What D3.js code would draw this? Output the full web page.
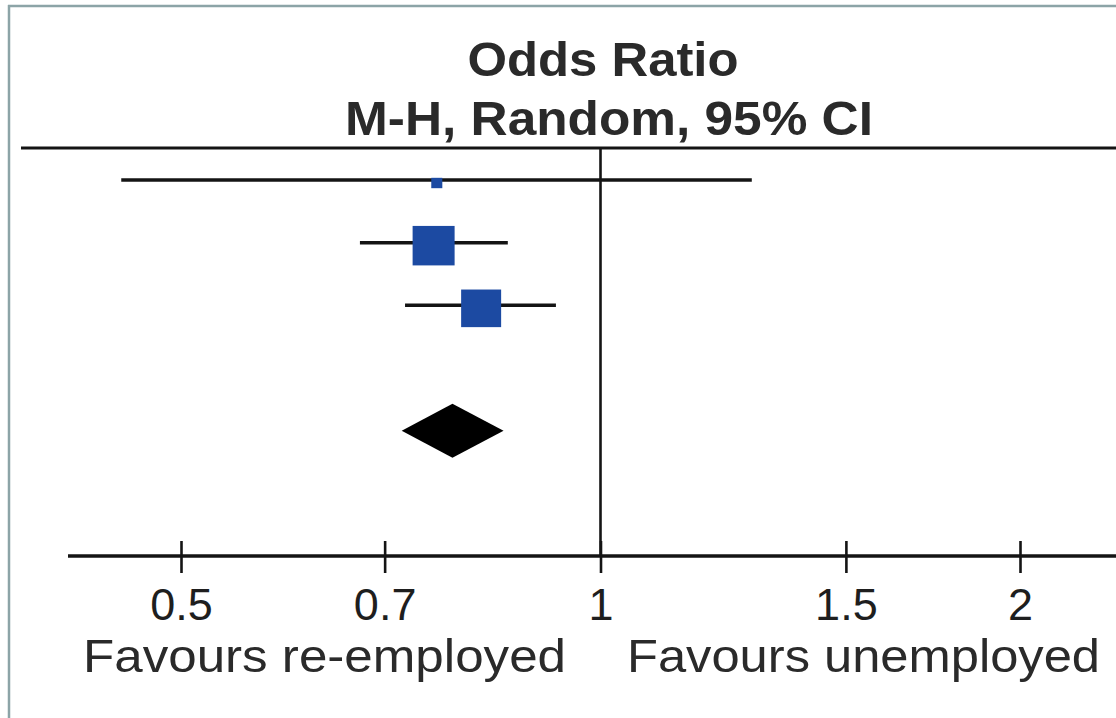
<!DOCTYPE html>
<html>
<head>
<meta charset="utf-8">
<script src="https://cdn.jsdelivr.net/npm/d3@7"></script>
<style>
  html, body { margin: 0; padding: 0; background: #ffffff; }
  svg { display: block; }
</style>
</head>
<body>
<svg id="chart" width="1116" height="718"></svg>
<script>
// ---- data ----
const studies   = ["Study 1", "Study 2", "Study 3"];
const oddsRatio = [0.763, 0.759, 0.821];
const ciLower   = [0.453, 0.672, 0.724];
const ciUpper   = [1.284, 0.858, 0.929];
const weights   = [3.5, 50.6, 45.9];
const pooledEstimate = 0.783;
const pooledLower    = 0.720;
const pooledUpper    = 0.852;
const tickValues = [0.5, 0.7, 1, 1.5, 2];
const tickLabels = ["0.5", "0.7", "1", "1.5", "2"];
const titleLines = ["Odds Ratio", "M-H, Random, 95% CI"];
const favourLabels = ["Favours re-employed", "Favours unemployed"];

// ---- layout ----
const W = 1116, H = 718;
const svg = d3.select("#chart");
const ink = "#141414";
const textInk = "#2a2a2a";
const blue = "#1c4aa2";

const x = d3.scaleLog().domain([0.5, 2]).range([181, 1020]);
const y = d3.scaleLinear().domain([0, 6]).range([180, 556]);
const side = d3.scaleSqrt().domain([0, d3.max(weights)]).range([0, 42]);

// frame
svg.append("line").attr("x1", 9).attr("x2", 9).attr("y1", 5).attr("y2", H)
  .attr("stroke", "#8ca4a7").attr("stroke-width", 2.5);
svg.append("line").attr("x1", 8).attr("x2", W).attr("y1", 6).attr("y2", 6)
  .attr("stroke", "#8ca4a7").attr("stroke-width", 2.5);

// titles
svg.append("text").attr("x", 603).attr("y", 76).attr("text-anchor", "middle")
  .attr("font-family", "Liberation Sans, Arial, sans-serif").attr("font-weight", "bold")
  .attr("font-size", 48).attr("fill", textInk)
  .attr("textLength", 271).attr("lengthAdjust", "spacingAndGlyphs")
  .text(titleLines[0]);
svg.append("text").attr("x", 609).attr("y", 135).attr("text-anchor", "middle")
  .attr("font-family", "Liberation Sans, Arial, sans-serif").attr("font-weight", "bold")
  .attr("font-size", 48).attr("fill", textInk)
  .attr("textLength", 528).attr("lengthAdjust", "spacingAndGlyphs")
  .text(titleLines[1]);

// header rule
svg.append("line").attr("x1", 21).attr("x2", W).attr("y1", 148).attr("y2", 148)
  .attr("stroke", ink).attr("stroke-width", 2.8);

// reference line at OR = 1
svg.append("line").attr("x1", x(1)).attr("x2", x(1)).attr("y1", 148).attr("y2", y(6))
  .attr("stroke", ink).attr("stroke-width", 2.6);

// study rows
const rows = studies.map((s, i) => ({ name: s, or: oddsRatio[i], lo: ciLower[i], hi: ciUpper[i], w: weights[i], row: i }));
const g = svg.append("g");
g.selectAll("line.ci").data(rows).join("line").attr("class", "ci")
  .attr("x1", d => x(d.lo)).attr("x2", d => x(d.hi))
  .attr("y1", d => y(d.row)).attr("y2", d => y(d.row))
  .attr("stroke", ink).attr("stroke-width", 3.5);
g.selectAll("rect.sq").data(rows).join("rect").attr("class", "sq")
  .attr("x", d => x(d.or) - side(d.w) / 2)
  .attr("y", d => y(d.row) + 3 - side(d.w) * 0.47)
  .attr("width", d => side(d.w))
  .attr("height", d => side(d.w) * 0.94)
  .attr("fill", blue);

// pooled diamond
const yd = y(4);
svg.append("path")
  .attr("d", `M${x(pooledLower)},${yd} L${x(pooledEstimate)},${yd - 27} L${x(pooledUpper)},${yd} L${x(pooledEstimate)},${yd + 27} Z`)
  .attr("fill", "#000");

// x axis
const axisY = y(6);
const axisG = svg.append("g").attr("transform", `translate(0,${axisY})`)
  .call(d3.axisBottom(x).tickValues(tickValues).tickFormat((d, i) => tickLabels[i]).tickSize(17));
axisG.select(".domain").remove();
axisG.selectAll(".tick line").attr("y1", -15).attr("y2", 17).attr("stroke", ink).attr("stroke-width", 2.6);
axisG.selectAll(".tick text").attr("y", 64).attr("dy", null)
  .attr("font-family", "Liberation Sans, Arial, sans-serif").attr("font-size", 45)
  .attr("fill", "#1e1e1e");
axisG.append("line").attr("x1", 68).attr("x2", W).attr("y1", 0).attr("y2", 0)
  .attr("stroke", ink).attr("stroke-width", 3.3);

// favours labels
svg.append("text").attr("x", 83).attr("y", 672)
  .attr("font-family", "Liberation Sans, Arial, sans-serif").attr("font-size", 46)
  .attr("fill", textInk).attr("textLength", 483).attr("lengthAdjust", "spacingAndGlyphs")
  .text(favourLabels[0]);
svg.append("text").attr("x", 627).attr("y", 672)
  .attr("font-family", "Liberation Sans, Arial, sans-serif").attr("font-size", 46)
  .attr("fill", textInk).attr("textLength", 473).attr("lengthAdjust", "spacingAndGlyphs")
  .text(favourLabels[1]);
</script>
</body>
</html>
